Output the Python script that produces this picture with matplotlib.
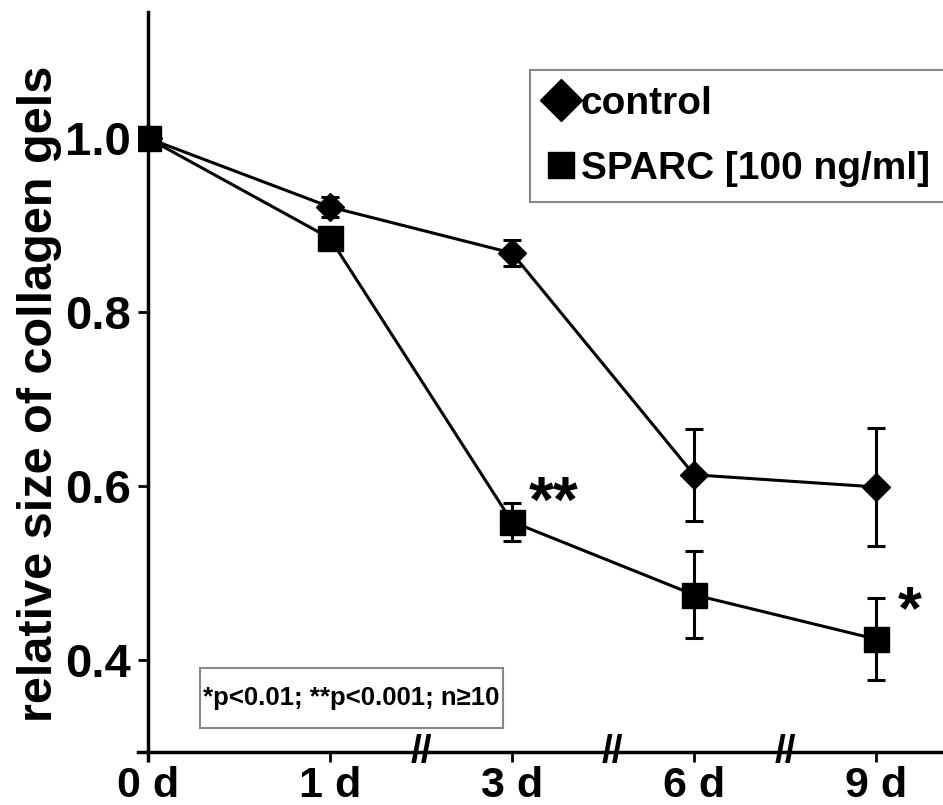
import matplotlib
matplotlib.use("Agg")
import matplotlib.pyplot as plt
import matplotlib.transforms as mtransforms
from matplotlib.lines import Line2D
from matplotlib.patches import Rectangle

plt.rcParams['font.family'] = ['Liberation Sans', 'DejaVu Sans']
plt.rcParams['font.weight'] = 'bold'

days = ["0 d", "1 d", "3 d", "6 d", "9 d"]
xpos = [0, 1, 2, 3, 4]

control = [1.0, 0.921, 0.868, 0.613, 0.599]
control_err = [0.0, 0.012, 0.015, 0.053, 0.068]
sparc = [1.0, 0.885, 0.559, 0.475, 0.424]
sparc_err = [0.0, 0.005, 0.022, 0.050, 0.047]

yticks = [0.4, 0.6, 0.8, 1.0]
breaks = [1.5, 2.55, 3.5]

fig = plt.figure(figsize=(9.43, 8.05), dpi=100)
ax = fig.add_axes([0.1463, 0.0559, 0.8537, 0.929])

ax.errorbar(xpos, control, yerr=control_err, color="black", marker="D", markersize=14,
            linewidth=2.2, elinewidth=2.2, capsize=6.5, capthick=2.2, zorder=3)
ax.errorbar(xpos, sparc, yerr=sparc_err, color="black", marker="s", markersize=18,
            linewidth=2.2, elinewidth=2.2, capsize=6.5, capthick=2.2, zorder=3)

# significance stars
ax.text(xpos[2] + 0.09, sparc[2] + 0.02, "**", fontsize=46, fontweight="bold",
        ha="left", va="center")
ax.text(xpos[4] + 0.12, sparc[4] + 0.03, "*", fontsize=44, fontweight="bold",
        ha="left", va="center")

ax.set_xlim(-0.055, 4.368)
ax.set_ylim(0.285, 1.145)

for s in ["top", "right"]:
    ax.spines[s].set_visible(False)
ax.spines["left"].set_position(("data", 0))
ax.spines["bottom"].set_position(("data", 0.294))
ax.spines["left"].set_linewidth(2.5)
ax.spines["bottom"].set_linewidth(2.5)

ax.set_yticks(yticks)
ax.set_yticklabels(["%.1f" % v for v in yticks])
ax.set_xticks(xpos)
ax.set_xticklabels(days)
ax.tick_params(axis="y", direction="out", length=7, width=2, labelsize=34, pad=5)
ax.tick_params(axis="x", direction="out", length=7, width=2, labelsize=31, pad=3)

ax.set_ylabel("relative size of collagen gels", fontsize=35, fontweight="bold")
ax.yaxis.set_label_coords(-0.094, 0.49)

# axis break marks
trans = mtransforms.blended_transform_factory(ax.transData, ax.transAxes)
y_axis_pos = (0.294 - 0.285) / (1.145 - 0.285)
for b in breaks:
    ax.text(b, y_axis_pos, "//", transform=trans, fontsize=28, fontweight="bold",
            ha="center", va="center")

# note box
ax.add_patch(Rectangle((0.0773, 0.0428), 0.376, 0.0802, transform=ax.transAxes,
                       facecolor="white", edgecolor="#888888", linewidth=1.5, zorder=4))
ax.text(0.2646, 0.0829, "*p<0.01; **p<0.001; n\u226510", transform=ax.transAxes,
        fontsize=18.5, fontweight="bold", ha="center", va="center", zorder=5)

handles = [Line2D([], [], color="black", marker="D", markersize=21, linestyle="none"),
           Line2D([], [], color="black", marker="s", markersize=19, linestyle="none")]
leg = fig.legend(handles, ["control", "SPARC [100 ng/ml]"], loc="upper left",
                 bbox_to_anchor=(530 / 943, 1 - 70 / 805), fontsize=28,
                 handlelength=0.8, handletextpad=0.1, borderpad=0.4, borderaxespad=0,
                 labelspacing=0.75, fancybox=False, framealpha=1)
leg.get_frame().set_edgecolor("#888888")
leg.get_frame().set_linewidth(1.5)
for t in leg.get_texts():
    t.set_fontweight("bold")

fig.savefig("out.png", dpi=100)
